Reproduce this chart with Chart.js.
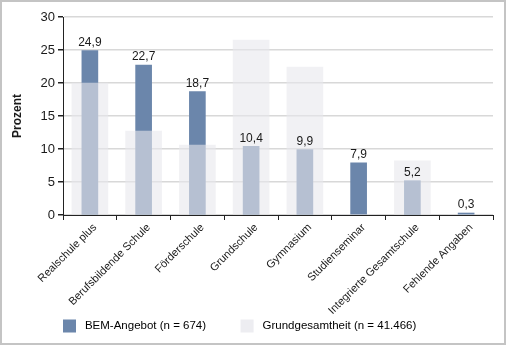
<!DOCTYPE html>
<html>
<head>
<meta charset="utf-8">
<script src="https://cdn.jsdelivr.net/npm/chart.js@4/dist/chart.umd.min.js"></script>
<style>
  html, body { margin: 0; padding: 0; background: #fff; }
  #wrap { position: relative; width: 506px; height: 345px; }
</style>
</head>
<body>
<div id="wrap"><canvas id="chart" width="506" height="345"></canvas></div>
<script>
'use strict';

// Schulform
const categories = ['Realschule plus', 'Berufsbildende Schule', 'Förderschule', 'Grundschule',
                    'Gymnasium', 'Studienseminar', 'Integrierte Gesamtschule', 'Fehlende Angaben'];
// BEM-Angebot (n = 674), Prozent
const bemValues = [24.9, 22.7, 18.7, 10.4, 9.9, 7.9, 5.2, 0.3];
// Grundgesamtheit (n = 41.466), Prozent
const totalValues = [20.0, 12.7, 10.6, 26.5, 22.4, 0, 8.2, 0];
const yTicks = [0, 5, 10, 15, 20, 25, 30];

const FONT = "'Liberation Sans', Arial, sans-serif";

// rotated x labels hang below the axis box, so don't clip them to it
Chart.CategoryScale.prototype._computeLabelArea = function () { return undefined; };

// frame around the whole figure
const framePlugin = {
  id: 'frame',
  afterDraw(chart) {
    const ctx = chart.ctx;
    ctx.save();
    ctx.strokeStyle = '#c4c4c4';
    ctx.lineWidth = 2;
    ctx.strokeRect(1, 1, chart.width - 2, chart.height - 2);
    ctx.restore();
  },
};

// value labels above the blue bars
const valueLabels = {
  id: 'valueLabels',
  afterDatasetsDraw(chart) {
    const ctx = chart.ctx;
    const meta = chart.getDatasetMeta(0);
    ctx.save();
    ctx.font = '12px ' + FONT;
    ctx.fillStyle = '#1a1a1a';
    ctx.textAlign = 'center';
    ctx.textBaseline = 'bottom';
    meta.data.forEach((bar, i) => {
      ctx.fillText(bemValues[i].toFixed(1).replace('.', ','), bar.x, bar.y - 2);
    });
    ctx.restore();
  },
};

new Chart(document.getElementById('chart'), {
  type: 'bar',
  data: {
    labels: categories,
    datasets: [
      {
        label          : 'BEM-Angebot (n = 674)',
        data           : bemValues,
        backgroundColor: '#6b86ab',
        barThickness   : 16,
        order          : 2,
      },
      {
        label          : 'Grundgesamtheit (n = 41.466)',
        data           : totalValues,
        backgroundColor: 'rgba(232,232,237,0.6)',
        barThickness   : 36,
        order          : 1,
      },
    ],
  },
  options: {
    responsive : false,
    animation  : false,
    grouped    : false,
    layout     : { padding: { top: 17, right: 13, left: 28.5, bottom: 2.5 } },
    plugins: {
      legend: {
        position: 'bottom',
        align   : 'start',
        labels  : {
          boxWidth : 13,
          boxHeight: 13,
          padding  : 34.5,
          color    : '#1a1a1a',
          font     : { size: 11.5, family: FONT },
          generateLabels: (chart) => chart.data.datasets.map((ds, i) => ({
            text     : ' ' + ds.label,
            fillStyle: i === 0 ? '#6b86ab' : '#ededf1',
            lineWidth: 0,
            strokeStyle: 'transparent',
            datasetIndex: i,
          })),
        },
      },
      tooltip: { enabled: false },
    },
    scales: {
      x: {
        afterFit: (scale) => { scale.height = 70; },
        grid  : { offset: true, drawOnChartArea: false, color: '#222', tickLength: 5, tickWidth: 1 },
        border: { color: '#222', width: 1 },
        ticks : {
          color: '#1a1a1a', font: { size: 11, family: FONT },
          minRotation: 45, maxRotation: 45, padding: 1, labelOffset: 5, autoSkip: false,
        },
      },
      y: {
        min: 0, max: 30,
        afterBuildTicks: (scale) => { scale.ticks = yTicks.map(v => ({ value: v })); },
        afterFit: (scale) => { scale.width = 34.5; },
        grid  : { color: '#d8d8d8', lineWidth: 1.5, tickColor: '#222', tickLength: 5, drawTicks: true },
        border: { color: '#222', width: 1 },
        ticks : { color: '#1a1a1a', font: { size: 13, family: FONT }, padding: 3 },
        title : {
          display: true, text: 'Prozent', color: '#1a1a1a',
          font: { size: 12, weight: 'bold', family: FONT },
          padding: { top: -17.7, bottom: 0 },
        },
      },
    },
  },
  plugins: [valueLabels, framePlugin],
});
</script>
</body>
</html>
